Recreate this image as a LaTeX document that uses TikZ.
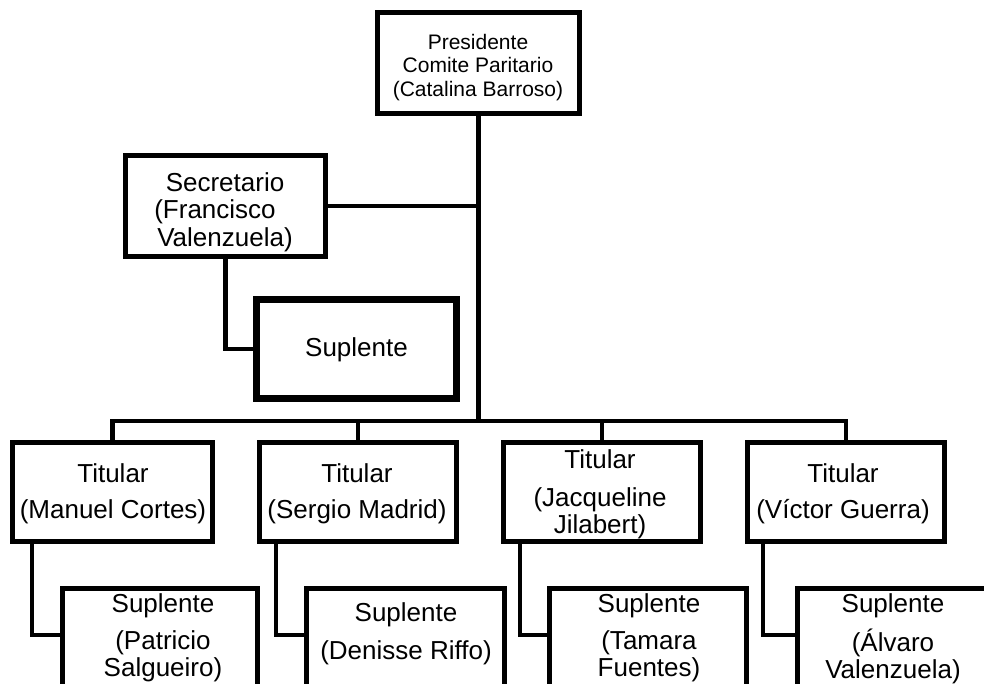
\documentclass[tikz,border=0pt]{standalone}
\usepackage{fontspec}
\setmainfont{Liberation Sans}
\begin{document}
\begin{tikzpicture}[x=0.75pt,y=-0.75pt,
  box/.style={draw=black,line width=3.75pt,fill=white,inner sep=0pt,rectangle},
  conn/.style={draw=black,line width=3.6pt,line join=miter},
  txt/.style={inner sep=0pt,align=center,anchor=north,font=\fontsize{19.5}{20.25}\selectfont},
  txtp/.style={inner sep=0pt,align=center,anchor=north,font=\fontsize{15.75}{17.6}\selectfont},
  txts/.style={inner sep=0pt,align=center,anchor=north,font=\fontsize{19.5}{20.6}\selectfont}]
\clip (0,0) rectangle (984,684);
\fill[white] (0,0) rectangle (984,684);
\coordinate (bus) at (478,421);
\coordinate (k1) at (32,635);
\coordinate (k2) at (276,635);
\coordinate (k3) at (520,635);
\coordinate (k4) at (763,635);
% boxes
\node[box,minimum width=151.5pt,minimum height=75.75pt] (P) at (478.5,63) {};
\node[box,minimum width=150pt,minimum height=75.75pt] (Sec) at (225.5,206) {};
\node[box,line width=5.25pt,minimum width=150pt,minimum height=74.25pt] (SS) at (356.5,349) {};
\node[box,minimum width=150pt,minimum height=74.25pt] (T1) at (112.5,492) {};
\node[box,minimum width=147.75pt,minimum height=74.25pt] (T2) at (358,492) {};
\node[box,minimum width=147.75pt,minimum height=74.25pt] (T3) at (602,492) {};
\node[box,minimum width=147.75pt,minimum height=74.25pt] (T4) at (846,492) {};
\node[box,anchor=north,minimum width=146.25pt,minimum height=105pt] (S1) at (160,585.5) {};
\node[box,anchor=north,minimum width=148.5pt,minimum height=105pt] (S2) at (405.5,585.5) {};
\node[box,anchor=north,minimum width=147.75pt,minimum height=105pt] (S3) at (648,585.5) {};
\node[box,anchor=north west,minimum width=165pt,minimum height=105pt] (S4) at (794.5,585.5) {};
% connectors
\draw[conn] (P.south) -- (P.south |- bus);
\draw[conn] (T1.north) -- (T1.north |- bus) -- (T4.north |- bus) -- (T4.north);
\draw[conn] (T2.north |- bus) -- (T2.north);
\draw[conn] (T3.north |- bus) -- (T3.north);
\draw[conn] (Sec.east) -- (Sec.east -| P.south);
\draw[conn] (Sec.south) |- (SS.west);
\draw[conn] (k1 |- T1.south) |- (S1.west |- k1);
\draw[conn] (k2 |- T2.south) |- (S2.west |- k2);
\draw[conn] (k3 |- T3.south) |- (S3.west |- k3);
\draw[conn] (k4 |- T4.south) |- (S4.west |- k4);
% texts
\node[txtp] (tP) at (478,34) {Presidente\\Comite Paritario\\(Catalina Barroso)};
\node[txts] (tSec) at (225,172) {Secretario\\(Francisco\rule{15pt}{0pt}\\Valenzuela)};
\node[txt] (tSS) at (356.5,337) {Suplente};
\node[txt] (tT1) at (113,463) {Titular\\[6.75pt](Manuel Cortes)};
\node[txt] (tT2) at (357,463) {Titular\\[6.75pt](Sergio Madrid)};
\node[txt] (tT3) at (600,449) {Titular\\[8.25pt](Jacqueline\\Jilabert)};
\node[txt] (tT4) at (843,463) {Titular\\[6.75pt](Víctor Guerra)};
\node[txt] (tS1) at (163,593) {Suplente\\[7.5pt](Patricio\\Salgueiro)};
\node[txt] (tS2) at (406,602) {Suplente\\[8.25pt](Denisse Riffo)};
\node[txt] (tS3) at (649,593) {Suplente\\[7.5pt](Tamara\\Fuentes)};
\node[txt] (tS4) at (893,593) {Suplente\\[7.5pt](Álvaro\\Valenzuela)};
\end{tikzpicture}
\end{document}
